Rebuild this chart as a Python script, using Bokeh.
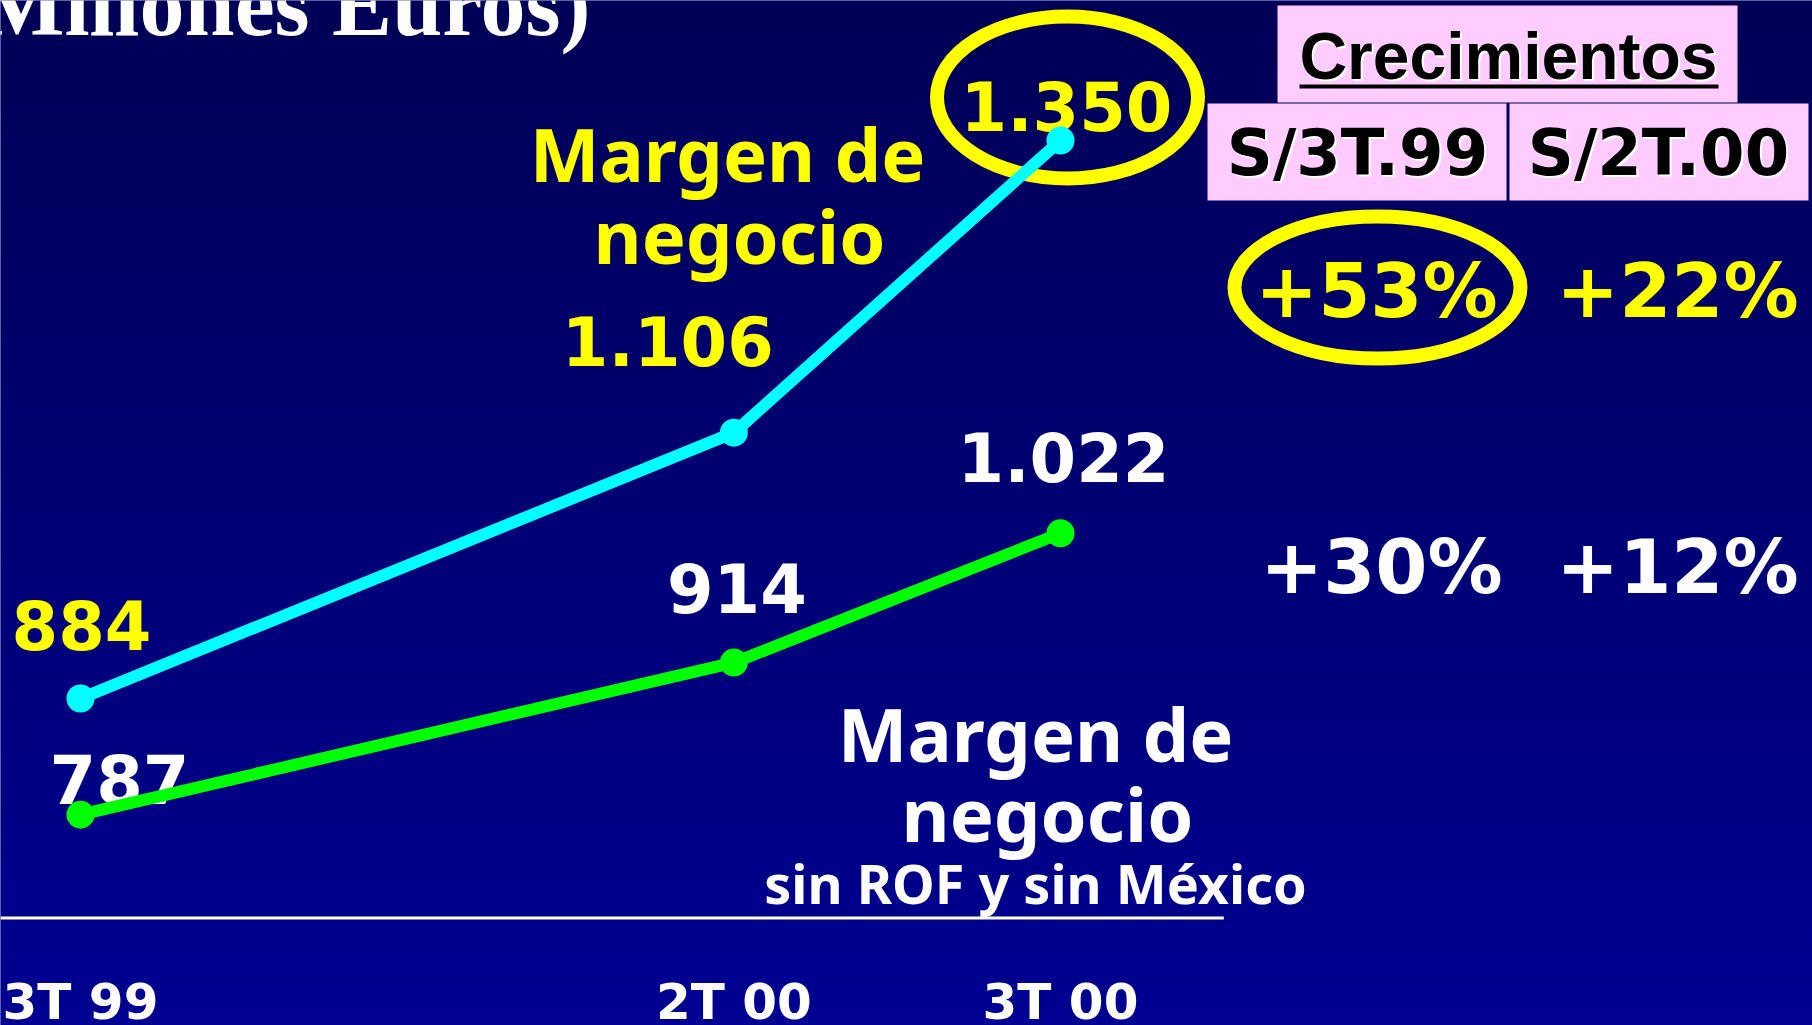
import numpy as np
from bokeh.plotting import figure
from bokeh.models import Range1d, ColumnDataSource
from bokeh.core.properties import value
from bokeh.embed import file_html
from bokeh.resources import INLINE

# ---------------- data ----------------
quarters = ["3T 99", "2T 00", "3T 00"]
quarter_x = [0, 2, 3]
margen_negocio = [884, 1106, 1350]
margen_sin_rof_mexico = [787, 914, 1022]
margen_labels = ["884", "1.106", "1.350"]
sin_labels = ["787", "914", "1.022"]
crec_title = "Crecimientos"
crec_headers = ["S/3T.99", "S/2T.00"]
crec_margen = ["+53%", "+22%"]
crec_sin = ["+30%", "+12%"]

# ---------------- layout helpers (page pixels -> data) ----------------
W, H = 1812, 1025
X0_PX, X3_PX = 80.0, 1060.0
PX_PER_X = (X3_PX - X0_PX) / 3.0
PX_PER_Y = 1.1974
Y_REF_V, Y_REF_PX = 884.0, 698.0
BASE_FIX = -0.37  # em shift so that the text baseline lands where asked


def px2x(X):
    return (X - X0_PX) / PX_PER_X


def px2y(Y):
    return Y_REF_V - (Y - Y_REF_PX) / PX_PER_Y


p = figure(width=W, height=H, output_backend="svg", toolbar_location=None,
           x_range=Range1d(px2x(0), px2x(W)),
           y_range=Range1d(px2y(H), px2y(0)),
           min_border=0, min_border_left=0, min_border_right=0,
           min_border_top=0, min_border_bottom=0)
p.axis.visible = False
p.grid.visible = False
p.outline_line_color = None
p.background_fill_color = "#00007a"
p.border_fill_color = "#00007a"

# background gradient (navy, darker at top)
N = 256
img = np.empty((N, 1), dtype=np.uint32)
view = img.view(dtype=np.uint8).reshape((N, 1, 4))
blue = np.linspace(146, 86, N)  # row 0 = bottom
view[:, 0, 0] = 0
view[:, 0, 1] = 0
view[:, 0, 2] = blue.astype(np.uint8)
view[:, 0, 3] = 255
p.image_rgba(image=[img], x=px2x(0), y=px2y(H), dw=px2x(W) - px2x(0),
             dh=px2y(0) - px2y(H))


def label(txt, X, Y, color, font, size, style="bold", align="center"):
    p.text(x=[px2x(X)], y=[px2y(Y)], text=[txt], text_color=color,
           y_offset=BASE_FIX * size,
           text_font=value(font), text_font_size=f"{size}px",
           text_font_style=style, text_align=align,
           text_baseline="alphabetic")


YEL = "#FFFF00"
WHITE = "#FFFFFF"
PINK = "#FFCCFF"

# title (cut at top)
label("(Millones Euros)", 590, 37, WHITE, "Liberation Serif", 90, align="right")

# highlight ellipses
p.ellipse(x=[px2x(1067), px2x(1377)], y=[px2y(97), px2y(287)],
          width=[261, 286], height=[162, 142],
          width_units="screen", height_units="screen",
          fill_color=None, line_color=YEL, line_width=14)

# table cells
p.quad(left=[px2x(1277), px2x(1207), px2x(1509)],
       right=[px2x(1737), px2x(1506), px2x(1808)],
       top=[px2y(5), px2y(103), px2y(103)],
       bottom=[px2y(102), px2y(200), px2y(200)],
       fill_color=PINK, line_color=None)

for dx in (2, 0):
    col = WHITE if dx else "#000000"
    label(crec_title, 1508 + dx, 80 + dx, col, "Liberation Sans", 66)
    label(crec_headers[0], 1357 + dx, 176 + dx, col, "DejaVu Sans", 64)
    label(crec_headers[1], 1658 + dx, 176 + dx, col, "DejaVu Sans", 64)
p.segment(x0=[px2x(1299)], y0=[px2y(86)], x1=[px2x(1718)], y1=[px2y(86)],
          line_color="#000000", line_width=4)

# growth percentages
label(crec_margen[0], 1376, 318, YEL, "DejaVu Sans", 75)
label(crec_margen[1], 1677, 318, YEL, "DejaVu Sans", 75)
label(crec_sin[0], 1381, 594, WHITE, "DejaVu Sans", 75)
label(crec_sin[1], 1677, 594, WHITE, "DejaVu Sans", 75)

# series names
label("Margen de", 727, 180, YEL, "Noto Sans", 74)
label("negocio", 739, 262, YEL, "Noto Sans", 74)
label("Margen de", 1035, 760, WHITE, "Noto Sans", 74)
label("negocio", 1047, 840, WHITE, "Noto Sans", 74)
label("sin ROF y sin México", 1035, 902, WHITE, "Noto Sans", 54)

# value labels
VAL_SIZE = 67
fix = BASE_FIX * VAL_SIZE
src_a = ColumnDataSource(dict(x=quarter_x, y=margen_negocio, t=margen_labels,
                              xo=[1, -66, 6],
                              yo=[-49 + fix, -67 + fix, -10 + fix]))
src_b = ColumnDataSource(dict(x=quarter_x, y=margen_sin_rof_mexico, t=sin_labels,
                              xo=[39, 3, 3],
                              yo=[-11 + fix, -50 + fix, -51 + fix]))
for src, col in ((src_a, YEL), (src_b, WHITE)):
    p.text(x="x", y="y", text="t", x_offset="xo", y_offset="yo", source=src,
           text_color=col, text_font=value("DejaVu Sans"),
           text_font_size=f"{VAL_SIZE}px", text_font_style="bold",
           text_align="center", text_baseline="alphabetic")

# series lines
p.line(quarter_x, margen_negocio, line_color="#00FFFF", line_width=12)
p.scatter(quarter_x, margen_negocio, size=28, fill_color="#00FFFF", line_color=None)
p.line(quarter_x, margen_sin_rof_mexico, line_color="#00FF00", line_width=12)
p.scatter(quarter_x, margen_sin_rof_mexico, size=28, fill_color="#00FF00", line_color=None)

# baseline and quarter labels
p.segment(x0=[px2x(0)], y0=[px2y(917.5)], x1=[3.5], y1=[px2y(917.5)],
          line_color=WHITE, line_width=3)
TICK_SIZE = 50
p.text(x=quarter_x, y=[px2y(1020)] * 3, text=quarters, text_color=WHITE,
       y_offset=BASE_FIX * TICK_SIZE,
       text_font=value("DejaVu Sans"), text_font_size=f"{TICK_SIZE}px",
       text_font_style="bold", text_align="center", text_baseline="alphabetic")

open("out.html", "w").write(file_html(p, INLINE))
